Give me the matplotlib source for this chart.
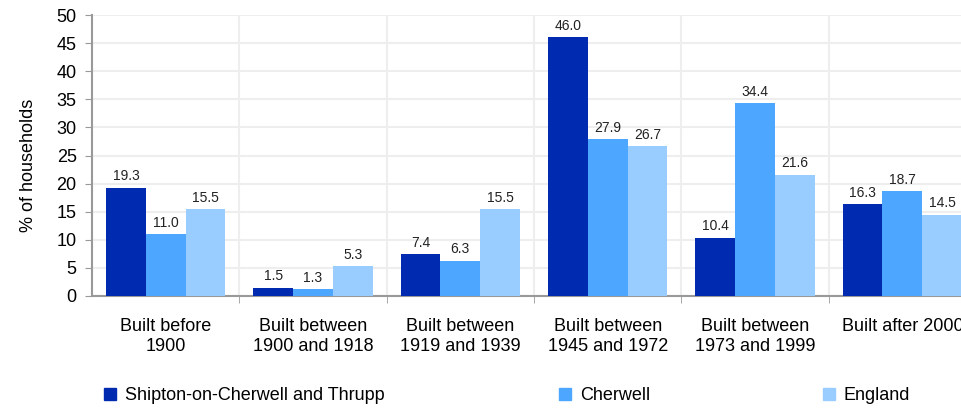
import numpy as np
import matplotlib.pyplot as plt
from matplotlib.patches import Patch

plt.rcParams['font.family'] = ['Liberation Sans', 'DejaVu Sans']

categories = ['Built before\n1900', 'Built between\n1900 and 1918', 'Built between\n1919 and 1939',
              'Built between\n1945 and 1972', 'Built between\n1973 and 1999', 'Built after 2000']
series_names = ['Shipton-on-Cherwell and Thrupp', 'Cherwell', 'England']
shipton = [19.3, 1.5, 7.4, 46.0, 10.4, 16.3]
cherwell = [11.0, 1.3, 6.3, 27.9, 34.4, 18.7]
england = [15.5, 5.3, 15.5, 26.7, 21.6, 14.5]
colors = ['#002bb0', '#4da6ff', '#99ccff']

fs = 13

fig = plt.figure(figsize=(9.62, 4.08), dpi=100)
# axes runs past the right edge, like the original (last group is cut off)
ax = fig.add_axes([92 / 962, 1 - 296 / 408, 884 / 962, 281 / 408])

x = np.arange(len(categories))
w = 0.27
for i, (vals, c) in enumerate(zip([shipton, cherwell, england], colors)):
    bars = ax.bar(x + (i - 1) * w, vals, w, color=c, zorder=3)
    ax.bar_label(bars, labels=[f'{v:.1f}' for v in vals], padding=3, fontsize=10, color='#222222')

ax.set_xlim(-0.5, len(categories) - 0.5)
ax.set_ylim(0, 50)
ax.set_yticks(range(0, 51, 5))
ax.set_xticks(x)
ax.set_xticklabels(categories, fontsize=fs, linespacing=1.25, va='top')
ax.tick_params(axis='x', length=0, pad=16)
ax.set_xticks(np.arange(0.5, len(categories) - 0.5, 1), minor=True)
ax.tick_params(axis='x', which='minor', length=5, color='#999999', direction='out')
ax.tick_params(axis='y', labelsize=fs, length=5, color='#999999', pad=6)
ax.set_ylabel('% of households', fontsize=fs)
ax.yaxis.set_label_coords(-0.062, 0.466)

ax.grid(axis='y', color='#eeeeee', linewidth=1.5, zorder=0)
ax.grid(axis='x', which='minor', color='#eeeeee', linewidth=1.5, zorder=0)
for s in ['top', 'right']:
    ax.spines[s].set_visible(False)
for s in ['left', 'bottom']:
    ax.spines[s].set_color('#999999')
    ax.spines[s].set_linewidth(1.5)

legend_x = [104, 559, 823]
for name, c, lx in zip(series_names, colors, legend_x):
    fig.legend(handles=[Patch(color=c)], labels=[name], loc='center left',
               bbox_to_anchor=(lx / 962, 1 - 396 / 408), frameon=False, fontsize=fs,
               handlelength=0.65, handleheight=0.65, handletextpad=0.5, borderpad=0,
               borderaxespad=0)

fig.savefig('out.png', dpi=100)
